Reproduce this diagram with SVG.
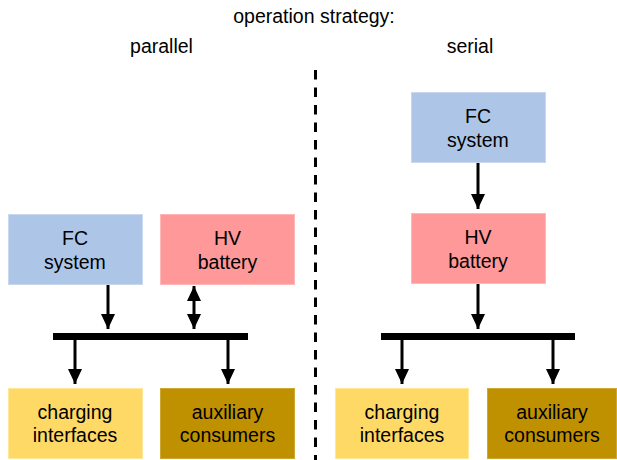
<svg xmlns="http://www.w3.org/2000/svg" width="617" height="460" viewBox="0 0 617 460">
<defs>
<style>
text{font-family:"Liberation Sans",Arial,sans-serif;font-size:19.5px;fill:#000;text-anchor:middle}
.fc{fill:#ADC6E8;stroke:#C9D8EE;stroke-width:1}
.hv{fill:#FF9898;stroke:#FFB8B8;stroke-width:1}
.ch{fill:#FFD966;stroke:#FFE699;stroke-width:1}
.au{fill:#BF9000;stroke:#CFA833;stroke-width:1}
.ln{stroke:#000;stroke-width:3;fill:none}
.bus{fill:#000}
</style>
<marker id="ah" viewBox="0 0 15 14" refX="15" refY="7" markerWidth="15" markerHeight="14" markerUnits="userSpaceOnUse" orient="auto-start-reverse">
<path d="M0,0 L15,7 L0,14 z" fill="#000"/>
</marker>
</defs>
<rect width="617" height="460" fill="#fff"/>
<g id="labels">
<text x="314" y="23">operation strategy:</text>
<text x="161.5" y="53">parallel</text>
<text x="470" y="53">serial</text>
</g>
<line x1="315.5" y1="70" x2="315.5" y2="460" stroke="#000" stroke-width="3" stroke-dasharray="9.5 8"/>
<g id="p-fc"><rect class="fc" x="8.5" y="214.5" width="134" height="70"/><text x="75" y="245">FC</text><text x="75" y="268.5">system</text></g>
<g id="p-hv"><rect class="hv" x="160.5" y="214.5" width="134" height="70"/><text x="227.5" y="245">HV</text><text x="227.5" y="268.5">battery</text></g>
<g id="p-ch"><rect class="ch" x="8.5" y="388.5" width="134" height="70"/><text x="75" y="419">charging</text><text x="75" y="442">interfaces</text></g>
<g id="p-au"><rect class="au" x="160.5" y="388.5" width="134" height="70"/><text x="227.5" y="419">auxiliary</text><text x="227.5" y="442">consumers</text></g>
<g id="s-fc"><rect class="fc" x="411.5" y="92.5" width="134" height="70"/><text x="478" y="123">FC</text><text x="478" y="146.5">system</text></g>
<g id="s-hv"><rect class="hv" x="411.5" y="213.5" width="134" height="70"/><text x="478" y="244">HV</text><text x="478" y="267.5">battery</text></g>
<g id="s-ch"><rect class="ch" x="335.5" y="388.5" width="133" height="70"/><text x="402" y="419">charging</text><text x="402" y="442">interfaces</text></g>
<g id="s-au"><rect class="au" x="487.5" y="388.5" width="129" height="70"/><text x="552" y="419">auxiliary</text><text x="552" y="442">consumers</text></g>
<g id="connectors">
<rect class="bus" x="53" y="333" width="195" height="7"/>
<rect class="bus" x="381" y="333" width="194" height="7"/>
<line class="ln" x1="108" y1="285" x2="108" y2="329" marker-end="url(#ah)"/>
<line class="ln" x1="194" y1="286" x2="194" y2="329" marker-start="url(#ah)" marker-end="url(#ah)"/>
<line class="ln" x1="75" y1="340" x2="75" y2="384" marker-end="url(#ah)"/>
<line class="ln" x1="228" y1="340" x2="228" y2="384" marker-end="url(#ah)"/>
<line class="ln" x1="478" y1="163" x2="478" y2="209" marker-end="url(#ah)"/>
<line class="ln" x1="478" y1="284" x2="478" y2="329" marker-end="url(#ah)"/>
<line class="ln" x1="402" y1="340" x2="402" y2="384" marker-end="url(#ah)"/>
<line class="ln" x1="553" y1="340" x2="553" y2="384" marker-end="url(#ah)"/>
</g>
</svg>
